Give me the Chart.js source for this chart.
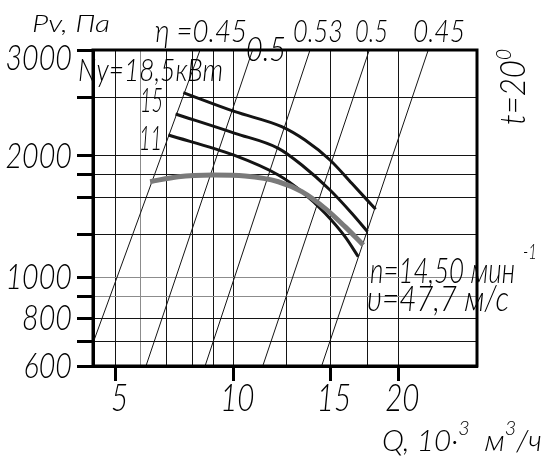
<!DOCTYPE html>
<html>
<head>
<meta charset="utf-8">
<title>Pv–Q</title>
<script src="https://cdn.jsdelivr.net/npm/chart.js@4.4.1/dist/chart.umd.min.js"></script>
<style>
  html, body { margin: 0; padding: 0; background: #fff; }
  #fan { display: block; }
</style>
</head>
<body>
<canvas id="fan" width="550" height="465"></canvas>
<script>
// Q, 10^3 m3/h
const qGrid = [5, 6, 7, 8, 9, 10, 12.5, 15, 17.5, 20];
const qLabeled = [5, 10, 15, 20];
// Pv, Pa
const pvGrid = [600, 700, 800, 900, 1000, 1250, 1600, 1800, 2000, 2500, 3000];
const pvLabeled = [600, 800, 1000, 2000, 3000];

// fan pressure curve
const pressureQ = [6.36, 7.43, 9, 10.5, 12.07, 13.32, 14.69, 15.96, 17.21];
const pressurePv = [1734, 1780, 1795, 1786, 1734, 1647, 1488, 1320, 1185];

// motor power curves, kW
const power185Q = [7.63, 10.07, 12.24, 13.5, 15, 16.41, 18.14];
const power185Pv = [2545, 2367, 2236, 2125, 1955, 1720, 1479];
const power15Q = [7.33, 10.07, 12.07, 13.32, 15, 16.41, 17.52];
const power15Pv = [2346, 2180, 2059, 1900, 1661, 1441, 1277];
const power11Q = [7.06, 10, 12.07, 13.32, 14.69, 15.96, 16.86];
const power11Pv = [2166, 2008, 1795, 1647, 1441, 1239, 1114];

// efficiency rays, from (Q, Pv) to (Q, Pv)
const etaFromQ = [4, 6.21, 8.59, 11.31, 14.48];
const etaFromPv = [694, 600, 600, 600, 600];
const etaToQ = [8.35, 10.84, 13.79, 17.65, 22.1];
const etaToPv = [3000, 3000, 3000, 3000, 3000];

const ink = '#141414';
const soft = '#8c8c8c';
const face = 'Lato, "DejaVu Sans", sans-serif';

// the printed axes are not a clean log grid, so the scale is calibrated
// against the reference grid: value -> share of the axis length
const axisKnots = {
    x: [[4, 0], [5, 0.0591], [6, 0.1224], [7, 0.1919], [8, 0.2591], [9, 0.3133], [10, 0.3654],
        [12.5, 0.5044], [15, 0.6172], [17.5, 0.7143], [20, 0.7951], [26, 1]],
    y: [[600, 0], [700, 0.0769], [800, 0.1509], [900, 0.2215], [1000, 0.2816], [1250, 0.4146],
        [1600, 0.5339], [1800, 0.6060], [2000, 0.6646], [2500, 0.8503], [3000, 1]],
};
const axisMarks = { x: qGrid, y: pvGrid };

function toShare(knots, v) {
    let i = 1;
    while (i < knots.length - 1 && v > knots[i][0]) i++;
    const [v0, f0] = knots[i - 1];
    const [v1, f1] = knots[i];
    return f0 + (f1 - f0) * Math.log(v / v0) / Math.log(v1 / v0);
}

function fromShare(knots, f) {
    let i = 1;
    while (i < knots.length - 1 && f > knots[i][1]) i++;
    const [v0, f0] = knots[i - 1];
    const [v1, f1] = knots[i];
    return v0 * Math.exp(Math.log(v1 / v0) * (f - f0) / (f1 - f0));
}

function inkText(ctx, text, x, y, size, width, opt = {}) {
    ctx.save();
    ctx.font = `italic 300 ${size}px ${face}`;
    const natural = ctx.measureText(text).width;
    const sx = width ? width / natural : (opt.squeeze || 0.8);
    ctx.translate(x, y);
    if (opt.rotate) ctx.rotate(opt.rotate);
    ctx.scale(sx, 1);
    ctx.textAlign = opt.align || 'left';
    ctx.textBaseline = 'alphabetic';
    ctx.fillStyle = '#000';
    ctx.fillText(text, 0, 0);
    ctx.restore();
    return natural * sx;
}

// several pieces on one baseline (superscripts), squeezed to a total width
function inkRun(ctx, parts, x, y, width, rotate) {
    ctx.save();
    let total = 0;
    parts.forEach((p) => {
        ctx.font = `italic 300 ${p.size}px ${face}`;
        total += ctx.measureText(p.text).width;
    });
    const sx = width / total;
    ctx.translate(x, y);
    if (rotate) ctx.rotate(rotate);
    let cx = 0;
    parts.forEach((p) => {
        ctx.font = `italic 300 ${p.size}px ${face}`;
        const w = ctx.measureText(p.text).width;
        ctx.save();
        ctx.translate(cx, p.dy || 0);
        ctx.scale(sx, 1);
        ctx.fillStyle = '#000';
        ctx.textBaseline = 'alphabetic';
        ctx.fillText(p.text, 0, 0);
        ctx.restore();
        cx += w * sx;
    });
    ctx.restore();
}

class WarpScale extends Chart.LinearScale {
    static id = 'warp';
    static defaults = Chart.LinearScale.defaults;

    buildTicks() {
        return axisMarks[this.id].map((value) => ({ value }));
    }

    getPixelForValue(value) {
        return this.getPixelForDecimal(toShare(axisKnots[this.id], value));
    }

    getValueForPixel(pixel) {
        return fromShare(axisKnots[this.id], this.getDecimalForPixel(pixel));
    }

    drawLabels() {
        const d = this.options.draft;
        this.ticks.forEach((tick) => {
            if (!tick.label) return;
            const p = this.getPixelForValue(tick.value);
            if (this.isHorizontal()) {
                inkText(this.ctx, tick.label, p + d.dx, this.top + d.dy, d.size, null,
                    { squeeze: d.squeeze, align: 'center' });
            } else {
                const y = Math.max(p + d.dy, this.top + d.dy + 8);
                inkText(this.ctx, tick.label, this.right + d.dx, y, d.size, null,
                    { squeeze: d.squeeze, align: 'right' });
            }
        });
    }
}
Chart.register(WarpScale);

function series(qs, pvs) {
    return qs.map((q, i) => ({ x: q, y: pvs[i] }));
}

function curve(qs, pvs, color, width) {
    return {
        data: series(qs, pvs),
        borderColor: color,
        borderWidth: width,
        cubicInterpolationMode: 'monotone',
        borderCapStyle: 'butt',
        pointRadius: 0,
        fill: false,
    };
}

const etaRays = etaFromQ.map((q, i) => ({
    data: [{ x: q, y: etaFromPv[i] }, { x: etaToQ[i], y: etaToPv[i] }],
    borderColor: ink,
    borderWidth: 1,
    pointRadius: 0,
    fill: false,
}));

const notes = [
    { text: 'Pv, Па', x: 32, y: 32, size: 23, w: 78 },
    { text: 'η =0.45', x: 155, y: 42, size: 31, w: 92 },
    { text: '0.5', x: 246, y: 61, size: 34, w: 40 },
    { text: '0.53', x: 293, y: 42, size: 31, w: 50 },
    { text: '0.5', x: 355, y: 42, size: 31, w: 33 },
    { text: '0.45', x: 413, y: 42, size: 31, w: 52 },
    { text: 'Nу=18,5кВт', x: 78, y: 81, size: 31, w: 145 },
    { text: '15', x: 140, y: 112, size: 33, w: 23 },
    { text: '11', x: 139, y: 150, size: 33, w: 23 },
    { text: 'n=14,50 мин', x: 370, y: 283, size: 36, w: 145 },
    { text: '-1', x: 523, y: 259, size: 22, w: 14 },
    { text: 'υ=47,7 м/с', x: 367, y: 311, size: 35, w: 142 },
];

const draftNotes = {
    id: 'draftNotes',
    afterDatasetsDraw(chart) {
        const { ctx, chartArea: a } = chart;
        ctx.save();
        ctx.lineWidth = 3;
        ctx.strokeStyle = '#000';
        ctx.strokeRect(a.left, a.top, a.right - a.left, a.bottom - a.top);
        ctx.restore();
    },
    afterDraw(chart) {
        const ctx = chart.ctx;
        notes.forEach((n) => inkText(ctx, n.text, n.x, n.y, n.size, n.w));
        inkRun(ctx, [
            { text: 'Q, 10·', size: 30 },
            { text: '3', size: 20, dy: -16 },
            { text: '  м', size: 30 },
            { text: '3', size: 20, dy: -16 },
            { text: '/ч', size: 30 },
        ], 382, 451, 160);
        inkRun(ctx, [
            { text: 't=20', size: 36 },
            { text: '0', size: 22, dy: -14 },
        ], 525, 125, 76, -Math.PI / 2);
    },
};

new Chart(document.getElementById('fan'), {
    type: 'line',
    data: {
        datasets: [
            curve(pressureQ, pressurePv, '#7a7a7a', 5),
            curve(power185Q, power185Pv, ink, 3),
            curve(power15Q, power15Pv, ink, 3),
            curve(power11Q, power11Pv, ink, 3),
            ...etaRays,
        ],
    },
    options: {
        responsive: false,
        animation: false,
        events: [],
        layout: { padding: { left: 0, top: 50, right: 73, bottom: 99 } },
        plugins: { legend: { display: false }, tooltip: { enabled: false } },
        scales: {
            x: {
                type: 'warp',
                min: 4,
                max: 26,
                afterFit: (s) => { s.height = 0; },
                border: { display: true, width: 3, color: '#000' },
                grid: {
                    color: (c) => (c.tick && c.tick.value === 6 ? soft : ink),
                    lineWidth: 1,
                    tickLength: 15,
                    tickWidth: 3,
                    tickColor: (c) => (c.tick && qLabeled.includes(c.tick.value) ? '#000' : 'rgba(0,0,0,0)'),
                },
                ticks: {
                    autoSkip: false,
                    maxRotation: 0,
                    callback: (v) => (qLabeled.includes(v) ? String(v) : ''),
                },
                draft: { size: 37, squeeze: 0.8, dx: 4, dy: 45 },
            },
            y: {
                type: 'warp',
                min: 600,
                max: 3000,
                afterFit: (s) => { s.width = 93; },
                border: { display: true, width: 3, color: '#000' },
                grid: {
                    color: (c) => (c.tick && (c.tick.value === 900 || c.tick.value === 1000) ? soft : ink),
                    lineWidth: 1,
                    tickLength: 16,
                    tickWidth: 3,
                    tickColor: '#000',
                },
                ticks: {
                    autoSkip: false,
                    callback: (v) => (pvLabeled.includes(v) ? String(v) : ''),
                },
                draft: { size: 35, squeeze: 0.82, dx: -21, dy: 12 },
            },
        },
    },
    plugins: [draftNotes],
});
</script>
</body>
</html>
